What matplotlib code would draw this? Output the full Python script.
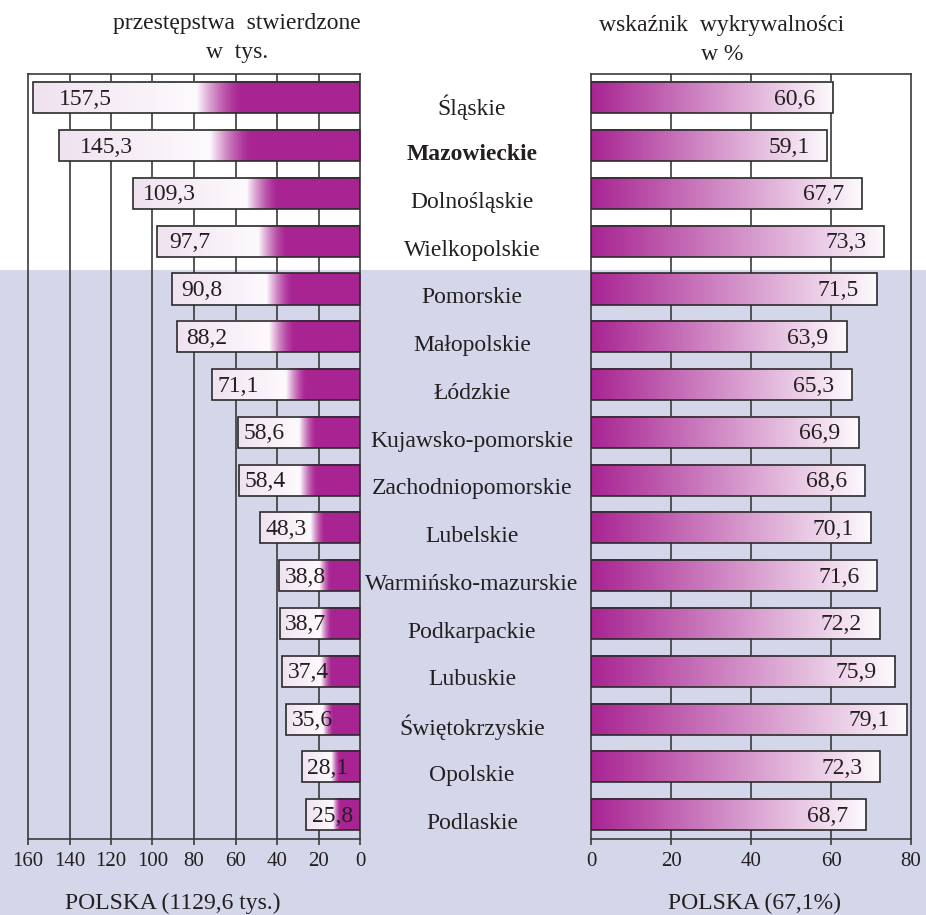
import numpy as np
import matplotlib
matplotlib.use("Agg")
import matplotlib.pyplot as plt
from matplotlib.patches import Rectangle

plt.rcParams['font.family'] = ['Liberation Serif', 'DejaVu Serif']

## data
regions = ["Śląskie", "Mazowieckie", "Dolnośląskie", "Wielkopolskie", "Pomorskie",
           "Małopolskie", "Łódzkie", "Kujawsko-pomorskie", "Zachodniopomorskie",
           "Lubelskie", "Warmińsko-mazurskie", "Podkarpackie", "Lubuskie",
           "Świętokrzyskie", "Opolskie", "Podlaskie"]
crimes = [157.5, 145.3, 109.3, 97.7, 90.8, 88.2, 71.1, 58.6, 58.4, 48.3,
          38.8, 38.7, 37.4, 35.6, 28.1, 25.8]
detection = [60.6, 59.1, 67.7, 73.3, 71.5, 63.9, 65.3, 66.9, 68.6, 70.1,
             71.6, 72.2, 75.9, 79.1, 72.3, 68.7]
left_ticks = [0, 20, 40, 60, 80, 100, 120, 140, 160]
right_ticks = [0, 20, 40, 60, 80]

txt = '#231f20'
purple = np.array([168, 36, 146]) / 255
white = np.array([253, 250, 253]) / 255
lav_end = np.array([240, 226, 240]) / 255
bg = '#d4d7ea'
h = 0.65

def fmt(v):
    return f"{v:.1f}".replace('.', ',')

##gradient for the left bars, t goes from 0 (at zero) to 1 (bar end)
def left_grad():
    t = np.linspace(0, 1, 300)
    cols = np.zeros((1, len(t), 3))
    for i, tt in enumerate(t):
        if tt < 0.36:
            c = purple
        elif tt < 0.5:
            s = (tt - 0.36) / 0.14
            s = s ** 1.5
            c = purple * (1 - s) + white * s
        else:
            s = (tt - 0.5) / 0.5
            c = white * (1 - s) + lav_end * s
        cols[0, i] = c
    return cols

def right_grad():
    t = np.linspace(0, 1, 300)
    cols = np.zeros((1, len(t), 3))
    for i, tt in enumerate(t):
        cols[0, i] = purple * (1 - tt) + white * tt
    return cols

fig = plt.figure(figsize=(9.26, 9.15), dpi=100)
fig.patches.append(Rectangle((0, 0), 1, 1 - 270 / 915, transform=fig.transFigure,
                             facecolor=bg, edgecolor='none', zorder=-10))

axL = fig.add_axes([28 / 926, 1 - 838.5 / 915, 332 / 926, 764.5 / 915])
axR = fig.add_axes([591 / 926, 1 - 838.5 / 915, 320 / 926, 764.5 / 915])

lg = left_grad()
rg = right_grad()

for ax in (axL, axR):
    ax.set_facecolor('none')
    for s in ax.spines.values():
        s.set_color('#3a3a3a')
        s.set_linewidth(1.2)
    ax.set_yticks([])
    ax.tick_params(axis='x', direction='out', length=4, width=1.2, color='#3a3a3a',
                   labelsize=15, labelcolor=txt, pad=6)

for i, v in enumerate(crimes):
    axL.imshow(lg, extent=(0, v, i + h / 2, i - h / 2), aspect='auto',
               interpolation='bilinear', zorder=2)
    axL.add_patch(Rectangle((0, i - h / 2), v, h, facecolor='none',
                            edgecolor='#2b2b2b', linewidth=1.2, zorder=3))
    pos = min(0.84 * v, v - 12.5)
    axL.text(pos, i + 0.03, fmt(v), ha='center', va='center', fontsize=17,
             color=txt, zorder=4)

for x in left_ticks[1:-1]:
    axL.axvline(x, color='#3a3a3a', linewidth=1.2, zorder=1)

axL.set_xlim(160, 0)
axL.set_ylim(15.5, -0.5)
axL.set_xticks(left_ticks)
axL.set_xticklabels([str(t) for t in left_ticks])

for i, v in enumerate(detection):
    axR.imshow(rg, extent=(0, v, i + h / 2, i - h / 2), aspect='auto',
               interpolation='bilinear', zorder=2)
    axR.add_patch(Rectangle((0, i - h / 2), v, h, facecolor='none',
                            edgecolor='#2b2b2b', linewidth=1.2, zorder=3))
    axR.text(v - 4.5, i + 0.03, fmt(v), ha='right', va='center', fontsize=17,
             color=txt, zorder=4)

for x in right_ticks[1:-1]:
    axR.axvline(x, color='#3a3a3a', linewidth=1.2, zorder=1)

axR.set_xlim(0, 80)
axR.set_ylim(15.5, -0.5)
axR.set_xticks(right_ticks)
axR.set_xticklabels([str(t) for t in right_ticks])

##region names in the middle
for i, name in enumerate(regions):
    yy = 1 - (98.8 + i * 47.75 + 8) / 915
    fig.text(472 / 926, yy, name, ha='center', va='center', fontsize=17, color=txt,
             fontweight='bold' if name == "Mazowieckie" else 'normal')

fig.text(237 / 926, 1 - 38 / 915, "przestępstwa  stwierdzone\nw  tys.", ha='center',
         va='center', fontsize=17, color=txt, linespacing=1.5)
fig.text(722 / 926, 1 - 40 / 915, "wskaźnik  wykrywalności\nw %", ha='center',
         va='center', fontsize=17, color=txt, linespacing=1.5)
fig.text(173 / 926, 1 - 903 / 915, "POLSKA (1129,6 tys.)", ha='center', va='center',
         fontsize=17, color=txt)
fig.text(754 / 926, 1 - 903 / 915, "POLSKA (67,1%)", ha='center', va='center',
         fontsize=17, color=txt)

plt.savefig("out.png", dpi=100, facecolor='white')
